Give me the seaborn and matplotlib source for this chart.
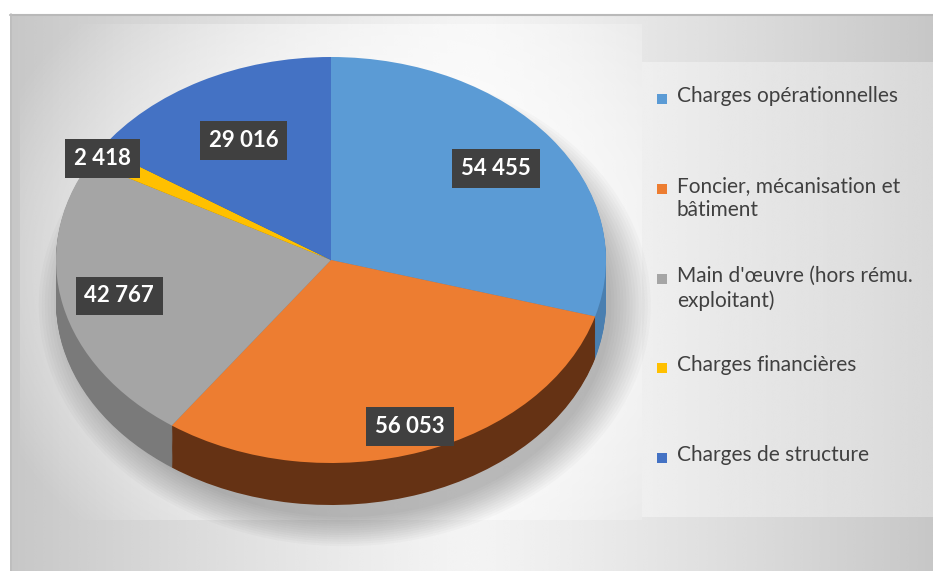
from matplotlib import pyplot as plt
from matplotlib.patches import Ellipse
import numpy as np
import seaborn as sns

# data
categories = ['Charges opérationnelles', 'Foncier, mécanisation et\nbâtiment',
              "Main d'œuvre (hors rému.\nexploitant)", 'Charges financières',
              'Charges de structure']
values = [54455, 56053, 42767, 2418, 29016]
colors = ['#5B9BD5', '#ED7D31', '#A5A5A5', '#FFC000', '#4472C4']
side_colors = ['#4a7fb0', '#653214', '#7a7a7a', '#a67d00', '#2f5290']
label_radius = [0.75, 0.87, 0.79, 0.97, 0.67]

W, H = 933, 571
# pie geometry in pixels (center, half axes, depth of the side)
cx, cy, a, b = 331, 260, 275, 203
depth = 42 / b

sns.set_style('white')
plt.rcParams['font.family'] = ['Lato', 'DejaVu Sans']

fig = plt.figure(figsize=(W / 100, H / 100), dpi=100)

# backgrounds (chart area, plot area glow, legend area)
bg = fig.add_axes([0, 0, 1, 1])
bg.set_xlim(0, W)
bg.set_ylim(H, 0)
bg.axis('off')

xs = np.linspace(0, 1, 400)
d = np.abs(xs - 0.5) / 0.5
chart_grad = 0.955 - 0.175 * d ** 1.2
bg.imshow(np.tile(chart_grad, (50, 1)), cmap='gray', vmin=0, vmax=1,
          extent=(10, W, H, 14), aspect='auto', interpolation='bicubic')
bg.plot([10, W], [14.5, 14.5], color='#b9b9b9', lw=1.5)
bg.plot([10.5, 10.5], [14, H], color='#bdbdbd', lw=1.2)

# plot area: soft white glow around the pie
gx, gy = np.meshgrid(np.linspace(0, 1, 300), np.linspace(0, 1, 200))
r = np.sqrt(((gx - 0.6) / 0.7) ** 2 + ((gy - 0.5) / 0.75) ** 2)
glow = np.ones((200, 300, 4))
glow[..., 3] = 0.85 * (1 - np.clip(r, 0, 1) ** 2)
bg.imshow(glow, extent=(20, 642, 520, 24), aspect='auto',
          interpolation='bicubic')

leg_grad = np.linspace(0.945, 0.865, 200)
bg.imshow(np.tile(leg_grad, (20, 1)), cmap='gray', vmin=0, vmax=1,
          extent=(642, W, 517, 62), aspect='auto', interpolation='bicubic',
          alpha=0.85)

# pie
pax = fig.add_axes([0, 0, 1, 1])
pax.patch.set_visible(False)

# soft shadow, below and to the right
for i in range(14):
    pax.add_patch(Ellipse((0.05, -depth / 2 - 0.12), 2 * (0.97 + 0.011 * i),
                          2 * (0.94 + 0.011 * i) + depth, color='black',
                          alpha=0.02, lw=0, zorder=0))

# side wall: stacked darker pies
n_layers = 40
for k in range(n_layers, 0, -1):
    pax.pie(values, colors=side_colors, startangle=90, counterclock=False,
            center=(0, -depth * k / n_layers), radius=1,
            wedgeprops=dict(linewidth=0))

wedges, _ = pax.pie(values, colors=colors, startangle=90, counterclock=False,
                    center=(0, 0), radius=1, wedgeprops=dict(linewidth=0))

pax.set_aspect('auto')
pax.set_xlim(-cx / a, (W - cx) / a)
pax.set_ylim(-(H - cy) / b, cy / b)
pax.axis('off')

# data labels
for w, v, rr in zip(wedges, values, label_radius):
    ang = np.deg2rad((w.theta1 + w.theta2) / 2)
    pax.text(rr * np.cos(ang), rr * np.sin(ang), f'{v:,}'.replace(',', ' '),
             ha='center', va='center', color='white', fontweight='bold',
             fontsize=16,
             bbox=dict(boxstyle='square,pad=0.4', fc='#404040', ec='none'),
             zorder=10)

# legend
entry_y = [99, 189, 279, 368, 458]
for lab, col, y in zip(categories, colors, entry_y):
    fig.patches.append(plt.Rectangle((657 / W, 1 - (y + 5) / H), 10 / W, 10 / H,
                                     transform=fig.transFigure, fc=col,
                                     ec='none', figure=fig))
    fig.text(677 / W, 1 - (y - 13) / H, lab, ha='left', va='top',
             fontsize=15, color='#404040', linespacing=1.25)

plt.savefig('out.png', dpi=100)
